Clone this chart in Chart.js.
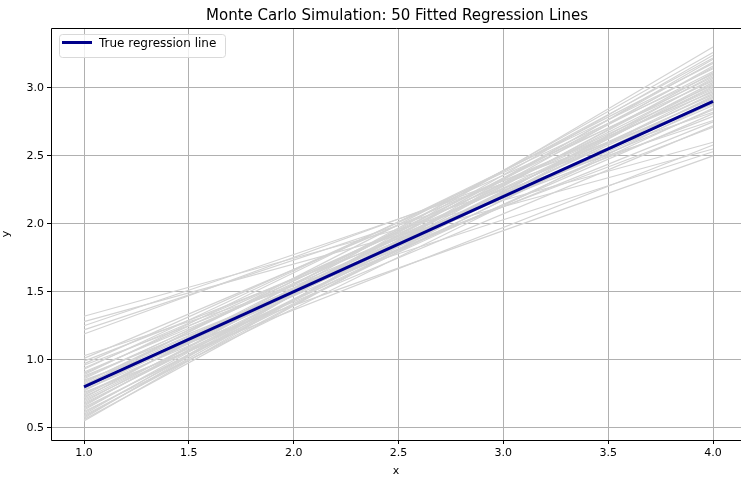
<!DOCTYPE html>
<html>
<head>
<meta charset="utf-8">
<script src="https://cdn.jsdelivr.net/npm/chart.js@4.4.1/dist/chart.umd.min.js"></script>
<style>
  html, body { margin: 0; padding: 0; background: #fff; }
  #wrap { width: 741px; height: 478px; position: relative; }
</style>
</head>
<body>
<div id="wrap"><canvas id="mcChart"></canvas></div>
<script>
// x positions of each fitted line's ends
const xEnds = [1, 4];

// y value of each simulated line at x = 1 and at x = 4
const fitStarts = [
  1.32, 1.28, 1.25, 1.22, 1.19, 1.03, 1.01, 0.99, 0.97, 0.96,
  0.94, 0.93, 0.91, 0.90, 0.89, 0.88, 0.87, 0.86, 0.85, 0.84,
  0.83, 0.82, 0.81, 0.80, 0.79, 0.78, 0.77, 0.76, 0.75, 0.74,
  0.73, 0.72, 0.71, 0.70, 0.69, 0.68, 0.67, 0.66, 0.65, 0.64,
  0.63, 0.62, 0.61, 0.60, 0.59, 0.58, 0.57, 0.56, 0.55, 0.78
];
const fitEnds = [
  2.60, 2.55, 2.82, 2.76, 2.88, 2.53, 2.97, 2.79, 3.05, 2.71,
  2.92, 3.10, 2.84, 2.99, 3.14, 2.75, 2.95, 3.02, 2.50, 2.87,
  3.08, 2.93, 3.18, 2.81, 3.00, 2.90, 3.12, 2.58, 2.96, 3.06,
  2.85, 3.22, 3.01, 2.91, 3.15, 2.98, 3.09, 3.26, 2.94, 3.04,
  3.19, 2.89, 3.11, 3.24, 3.03, 3.16, 3.30, 3.07, 3.21, 2.72
];

// true regression line
const trueY = [0.8, 2.9];

const xTicks = [1.0, 1.5, 2.0, 2.5, 3.0, 3.5, 4.0];
const yTicks = [0.5, 1.0, 1.5, 2.0, 2.5, 3.0];

const FONT = "'DejaVu Sans', sans-serif";

function buildDatasets() {
  const sets = fitStarts.map((s, i) => ({
    label: 'fit ' + (i + 1),
    data: [{ x: xEnds[0], y: s }, { x: xEnds[1], y: fitEnds[i] }],
    borderColor: '#d3d3d3',
    borderWidth: 1.2,
    pointRadius: 0,
    fill: false,
    order: 1
  }));
  sets.push({
    label: 'True regression line',
    data: [{ x: xEnds[0], y: trueY[0] }, { x: xEnds[1], y: trueY[1] }],
    borderColor: '#00008b',
    borderWidth: 3,
    pointRadius: 0,
    fill: false,
    order: 0
  });
  return sets;
}

// frame, title and inset legend like matplotlib
const decorations = {
  id: 'decorations',
  afterDraw(chart) {
    const { ctx, chartArea: a } = chart;
    ctx.save();
    ctx.strokeStyle = '#000';
    ctx.lineWidth = 1;
    ctx.beginPath();
    ctx.moveTo(a.right + 1, a.top + 0.5);
    ctx.lineTo(a.left + 0.5, a.top + 0.5);
    ctx.lineTo(a.left + 0.5, a.bottom + 0.5);
    ctx.lineTo(a.right + 1, a.bottom + 0.5);
    ctx.stroke();

    ctx.fillStyle = '#000';
    ctx.font = '15px ' + FONT;
    ctx.textAlign = 'center';
    ctx.textBaseline = 'alphabetic';
    ctx.fillText('Monte Carlo Simulation: 50 Fitted Regression Lines', 397, 20);

    // legend box
    const bx = 59, by = 34, bw = 166, bh = 23;
    ctx.beginPath();
    ctx.roundRect(bx + 0.5, by + 0.5, bw, bh, 3);
    ctx.fillStyle = 'rgba(255,255,255,0.8)';
    ctx.fill();
    ctx.strokeStyle = '#d9d9d9';
    ctx.lineWidth = 1;
    ctx.stroke();
    ctx.beginPath();
    ctx.moveTo(bx + 3, by + 8.5);
    ctx.lineTo(bx + 33, by + 8.5);
    ctx.strokeStyle = '#00008b';
    ctx.lineWidth = 3;
    ctx.stroke();
    ctx.fillStyle = '#000';
    ctx.font = '12px ' + FONT;
    ctx.textAlign = 'left';
    ctx.textBaseline = 'middle';
    ctx.fillText('True regression line', bx + 40, by + 10);
    ctx.restore();
  }
};

const ctx = document.getElementById('mcChart').getContext('2d');
new Chart(ctx, {
  type: 'line',
  data: { datasets: buildDatasets() },
  options: {
    responsive: true,
    maintainAspectRatio: false,
    animation: false,
    layout: { padding: { top: 28, right: 0, left: 0, bottom: 0 } },
    plugins: {
      legend: { display: false },
      tooltip: { enabled: false },
      title: { display: false }
    },
    scales: {
      x: {
        type: 'linear',
        min: 0.8426,
        max: 4.1335,
        afterBuildTicks: s => { s.ticks = xTicks.map(v => ({ value: v })); },
        afterFit: s => { s.height = 38; },
        ticks: {
          color: '#000',
          font: { family: FONT, size: 11 },
          padding: 3,
          maxRotation: 0,
          callback: v => v.toFixed(1)
        },
        grid: { color: '#b0b0b0', tickColor: '#000', tickLength: 4 },
        border: { display: false },
        title: { display: true, text: 'x', color: '#000', font: { family: FONT, size: 11 }, padding: { top: 2, bottom: 0 } }
      },
      y: {
        type: 'linear',
        min: 0.41,
        max: 3.44,
        afterBuildTicks: s => { s.ticks = yTicks.map(v => ({ value: v })); },
        afterFit: s => { s.width = 51; },
        ticks: {
          color: '#000',
          font: { family: FONT, size: 11 },
          padding: 3,
          callback: v => v.toFixed(1)
        },
        grid: { color: '#b0b0b0', tickColor: '#000', tickLength: 4 },
        border: { display: false },
        title: { display: true, text: 'y', color: '#000', font: { family: FONT, size: 11 }, padding: { top: 0, bottom: 2 } }
      }
    }
  },
  plugins: [decorations]
});
</script>
</body>
</html>
